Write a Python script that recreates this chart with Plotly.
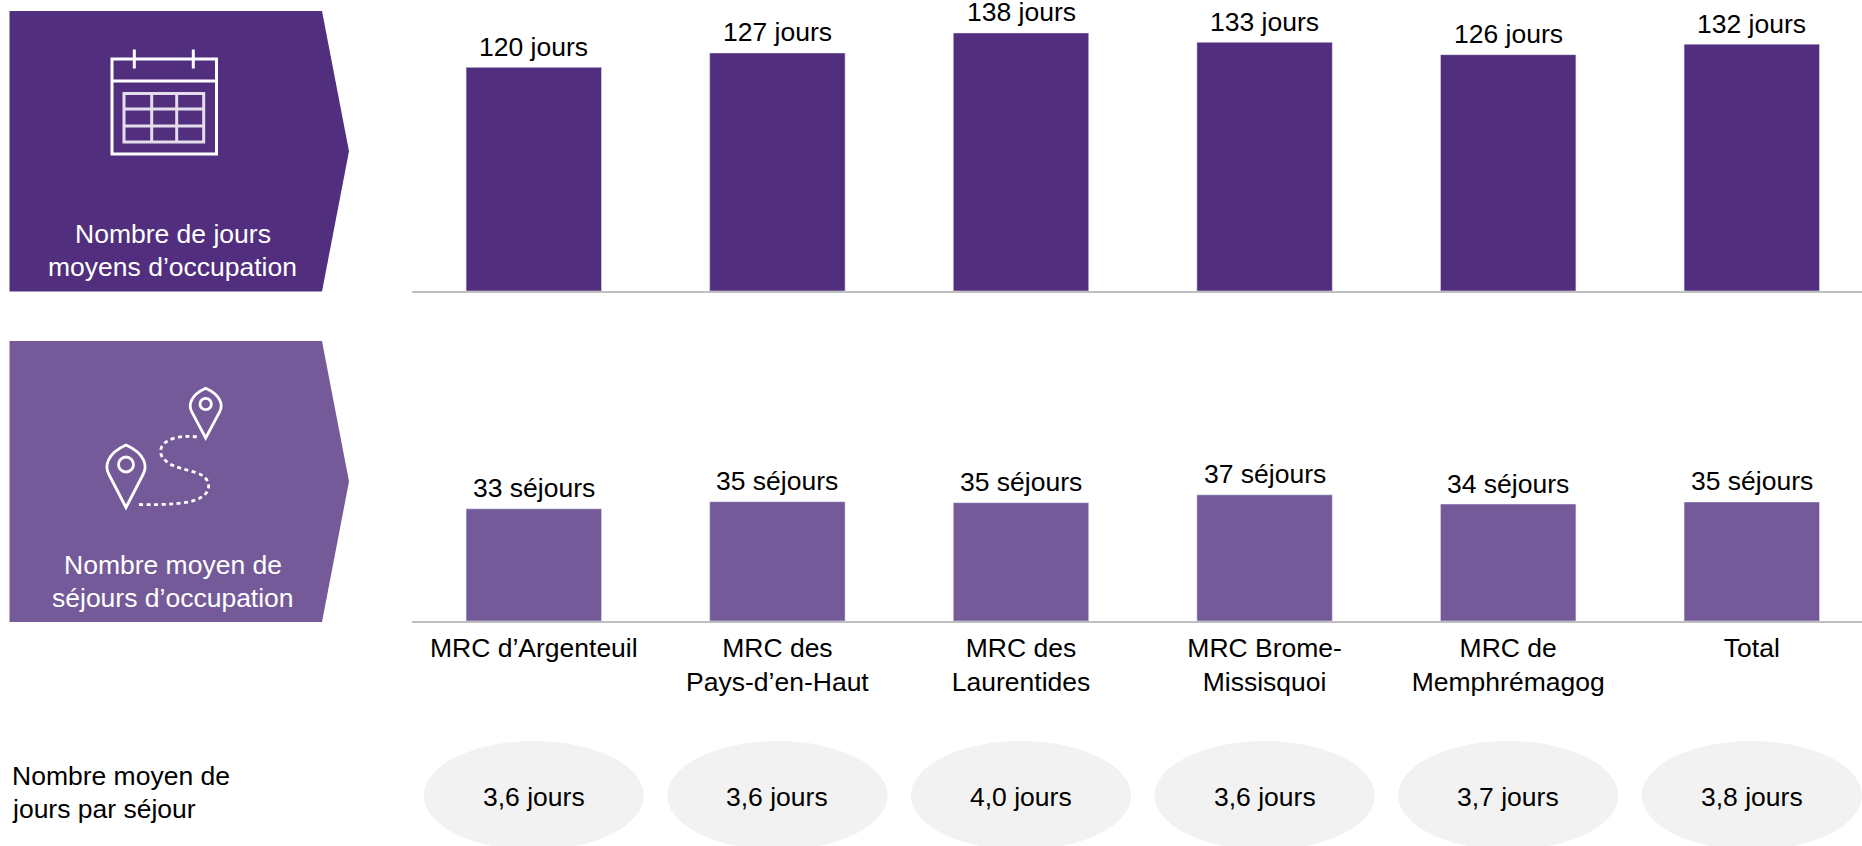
import plotly.graph_objects as go

W, H = 1862, 846
FONT = "Liberation Sans, Arial, sans-serif"
FS = 26.5
DARK = "#512F7E"
LIGHT = "#745A99"
GREY = "#BFBFBF"
ELL = "#F2F2F2"

categories = ["MRC d’Argenteuil", "MRC des<br>Pays-d’en-Haut", "MRC des<br>Laurentides",
              "MRC Brome-<br>Missisquoi", "MRC de<br>Memphrémagog", "Total"]
jours_occupation = [119.6, 127.3, 138, 133, 126.4, 132]
sejours_occupation = [32.9, 35.0, 34.7, 37.0, 34.3, 34.9]
jours_par_sejour = ["3,6", "3,6", "4,0", "3,6", "3,7", "3,8"]

px = lambda v: v / W
py = lambda v: 1 - v / H

fig = go.Figure()
fig.add_trace(go.Bar(x=categories, y=jours_occupation, marker_color=DARK, xaxis="x", yaxis="y",
                     hoverinfo="skip", width=0.556))
fig.add_trace(go.Bar(x=categories, y=sejours_occupation, marker_color=LIGHT, xaxis="x2", yaxis="y2",
                     hoverinfo="skip", width=0.556))

shapes, annotations = [], []


def path(d, color="white", width=3, fill=None, dash=None):
    line = dict(color=color, width=width)
    if dash:
        line["dash"] = dash
    shapes.append(dict(type="path", xref="paper", yref="paper", path=d, line=line,
                       fillcolor=fill if fill else "rgba(0,0,0,0)", layer="above"))


def P(*pts):
    """pixel pairs -> 'x,y' strings in paper coordinates"""
    return " ".join(f"{px(a):.5f},{py(b):.5f}" for a, b in pts)


def label(text, x, y, anchor="center", color="black"):
    annotations.append(dict(text=text, xref="paper", yref="paper", x=px(x), y=py(y), showarrow=False,
                            xanchor=anchor, yanchor="middle", align="left" if anchor == "left" else "center",
                            font=dict(family=FONT, size=FS, color=color)))


# bar value labels
for cat, v in zip(categories, jours_occupation):
    annotations.append(dict(text=f"{round(v)} jours", xref="x", yref="y", x=cat, y=v, showarrow=False,
                            xanchor="center", yanchor="bottom", yshift=3.5,
                            font=dict(family=FONT, size=FS, color="black")))
for cat, v in zip(categories, sejours_occupation):
    annotations.append(dict(text=f"{round(v)} séjours", xref="x2", yref="y2", x=cat, y=v, showarrow=False,
                            xanchor="center", yanchor="bottom", yshift=3.5,
                            font=dict(family=FONT, size=FS, color="black")))

# left pentagons
for top, bot, col in [(11, 291.5, DARK), (341, 622, LIGHT)]:
    path(f"M {P((9.5, top))} L {P((322, top))} L {P((349, (top + bot) / 2))} L {P((322, bot))} L {P((9.5, bot))} Z",
         color=col, width=0, fill=col)

# panel labels
label("Nombre de jours", 172.5, 234, color="white")
label("moyens d’occupation", 172.5, 267, color="white")
label("Nombre moyen de", 172.5, 565, color="white")
label("séjours d’occupation", 172.5, 598, color="white")
label("Nombre moyen de", 9.5, 776, anchor="left")
label("jours par séjour", 9.5, 808.5, anchor="left")

# calendar icon
path(f"M {P((112, 59))} L {P((216.5, 59))} L {P((216.5, 154))} L {P((112, 154))} Z")
path(f"M {P((112, 81))} L {P((216.5, 81))}")
for x in (134.3, 193.3):
    path(f"M {P((x, 49.5))} L {P((x, 68.5))}")
GRID = "#E4DEEC"
path(f"M {P((124, 93.5))} L {P((203.7, 93.5))} L {P((203.7, 142))} L {P((124, 142))} Z", color=GRID)
for x in (151.7, 176.7):
    path(f"M {P((x, 93.5))} L {P((x, 142))}", color=GRID)
for y in (109, 126):
    path(f"M {P((124, y))} L {P((203.7, y))}", color=GRID)


def pin(cx, cy, r, tip, inner):
    k = 0.5523 * r
    path(f"M {P((cx, tip))} L {P((cx - r * 0.88, cy + r * 0.5))} "
         f"C {P((cx - r * 1.1, cy + r * 0.1))} {P((cx - r, cy - k))} {P((cx - r * 0.0, cy - r))} "
         f"C {P((cx + r, cy - k))} {P((cx + r * 1.1, cy + r * 0.1))} {P((cx + r * 0.88, cy + r * 0.5))} Z", width=2.8)
    ki = 0.5523 * inner
    path(f"M {P((cx - inner, cy))} C {P((cx - inner, cy - ki))} {P((cx - ki, cy - inner))} {P((cx, cy - inner))} "
         f"C {P((cx + ki, cy - inner))} {P((cx + inner, cy - ki))} {P((cx + inner, cy))} "
         f"C {P((cx + inner, cy + ki))} {P((cx + ki, cy + inner))} {P((cx, cy + inner))} "
         f"C {P((cx - ki, cy + inner))} {P((cx - inner, cy + ki))} {P((cx - inner, cy))} Z", width=2.8)


pin(126, 464.5, 19.5, 507.5, 7.5)
pin(205.7, 404, 15.8, 438, 5.7)
path(f"M {P((139, 504.5))} C {P((165, 505))} {P((190, 504))} {P((200, 498))} "
     f"C {P((212, 492))} {P((212, 478))} {P((197, 473))} "
     f"C {P((185, 469))} {P((172, 467))} {P((166, 461))} "
     f"C {P((155, 452))} {P((162, 441))} {P((175, 438))} "
     f"C {P((183, 436))} {P((190, 436))} {P((198, 437))}", width=2.8, dash="4px,3.5px")

# ellipses under each category with average days per stay
for i, v in enumerate(jours_par_sejour):
    shapes.append(dict(type="circle", xref="x2", yref="paper", x0=i - 0.452, x1=i + 0.452,
                       y0=py(850), y1=py(741), fillcolor=ELL, line=dict(width=0), layer="below"))
    annotations.append(dict(text=f"{v} jours", xref="x2", yref="paper", x=i, y=py(797), showarrow=False,
                            xanchor="center", yanchor="middle", font=dict(family=FONT, size=FS, color="black")))

BAND = 243.6
x_end = (W - 412) / BAND - 0.5
xa = dict(domain=[px(412), 1], type="category", range=[-0.5, x_end], showline=True, linecolor=GREY, linewidth=2,
          ticks="", showgrid=False, zeroline=False, fixedrange=True)

fig.update_layout(
    width=W, height=H, margin=dict(l=0, r=0, t=0, b=0), showlegend=False, paper_bgcolor="white",
    plot_bgcolor="rgba(0,0,0,0)", barmode="overlay",
    xaxis=dict(xa, anchor="y", showticklabels=False, categoryorder="array", categoryarray=categories),
    yaxis=dict(domain=[py(291), 1], range=[0, 291 / 1.87], visible=False, fixedrange=True, anchor="x"),
    xaxis2=dict(xa, anchor="y2", showticklabels=True, categoryorder="array", categoryarray=categories,
                ticklabelstandoff=2, tickfont=dict(family=FONT, size=FS, color="black")),
    yaxis2=dict(domain=[py(621), py(331)], range=[0, 290 / 3.41], visible=False, fixedrange=True, anchor="x2"),
    shapes=shapes, annotations=annotations,
)

fig.write_html("out.html", config=dict(displayModeBar=False),
               post_script="document.body.style.margin='0';")
